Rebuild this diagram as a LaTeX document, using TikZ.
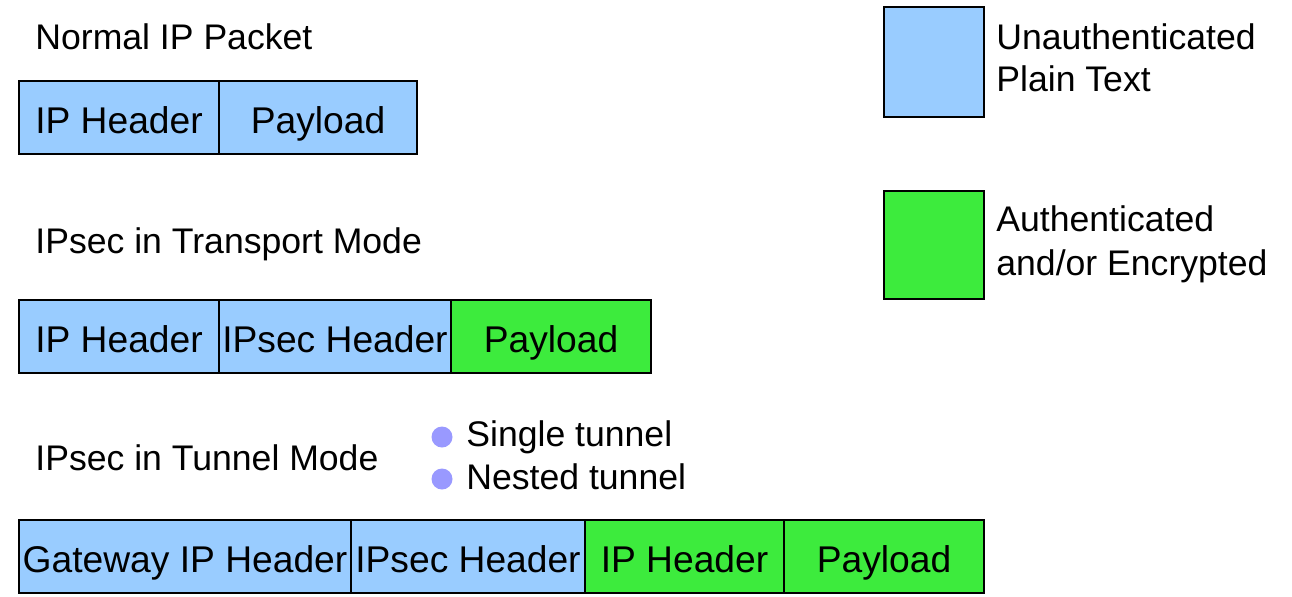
\documentclass[tikz,border=0pt]{standalone}
\usepackage{fontspec}
\setmainfont{Liberation Sans}
\usetikzlibrary{positioning}
\definecolor{plainblue}{HTML}{99CCFF}
\definecolor{authgreen}{HTML}{3DEB3D}
\definecolor{bulletblue}{HTML}{9999FF}

\tikzset{
  field/.style={draw=black, line width=1pt, minimum height=36.5pt, inner sep=0pt, outer sep=0pt,
    text height=17pt, text depth=1.5pt, font=\fontsize{18.6}{20}\selectfont},
  clear/.style={field, fill=plainblue},
  secure/.style={field, fill=authgreen},
  caption/.style={anchor=base west, inner sep=0pt, font=\fontsize{17.8}{21}\selectfont},
  dot/.style={circle, fill=bulletblue, inner sep=0pt, minimum size=10.5pt},
  key/.style={draw=black, line width=1pt, inner sep=0pt, outer sep=0pt, minimum width=50pt, anchor=north west},
}

\begin{document}
\begin{tikzpicture}[x=0.5pt,y=-0.5pt]
\useasboundingbox (0,0) rectangle (1292,596);

% normal packet
\node[caption] (normal) at (35,49) {Normal IP Packet};
\node[clear, minimum width=100pt, anchor=north west] (iphdr) at (19,81) {IP Header};
\node[clear, minimum width=99pt, right=0pt of iphdr] (payload) {Payload};

% transport mode
\node[caption] (transport) at (35,253) {IPsec in Transport Mode};
\node[clear, minimum width=100pt, anchor=north west] (tiphdr) at (19,300) {IP Header};
\node[clear, minimum width=116pt, right=0pt of tiphdr] (tsechdr) {IPsec Header};
\node[secure, minimum width=100pt, right=0pt of tsechdr] (tpayload) {Payload};

% tunnel mode
\node[caption] (tunnel) at (35,470) {IPsec in Tunnel Mode};
\node[dot] (singledot) at (442,437) {};
\node[dot] (nesteddot) at (442,479) {};
\node[caption] (single) at (466,446) {Single tunnel};
\node[caption] (nested) at (466,489) {Nested tunnel};
\node[clear, minimum width=166pt, anchor=north west] (gwhdr) at (19,520) {Gateway IP Header};
\node[clear, minimum width=117pt, right=0pt of gwhdr] (usechdr) {IPsec Header};
\node[secure, minimum width=99.5pt, right=0pt of usechdr] (uiphdr) {IP Header};
\node[secure, minimum width=100pt, right=0pt of uiphdr] (upayload) {Payload};

% legend
\node[key, fill=plainblue, minimum height=55pt] (bluekey) at (884,7) {};
\node[caption] (unauth) at (996,49) {Unauthenticated};
\node[caption] (plain) at (996,91) {Plain Text};
\node[key, fill=authgreen, minimum height=54pt] (greenkey) at (884,191) {};
\node[caption] (auth) at (996,231) {Authenticated};
\node[caption] (encr) at (996,275) {and/or Encrypted};
\end{tikzpicture}
\end{document}
